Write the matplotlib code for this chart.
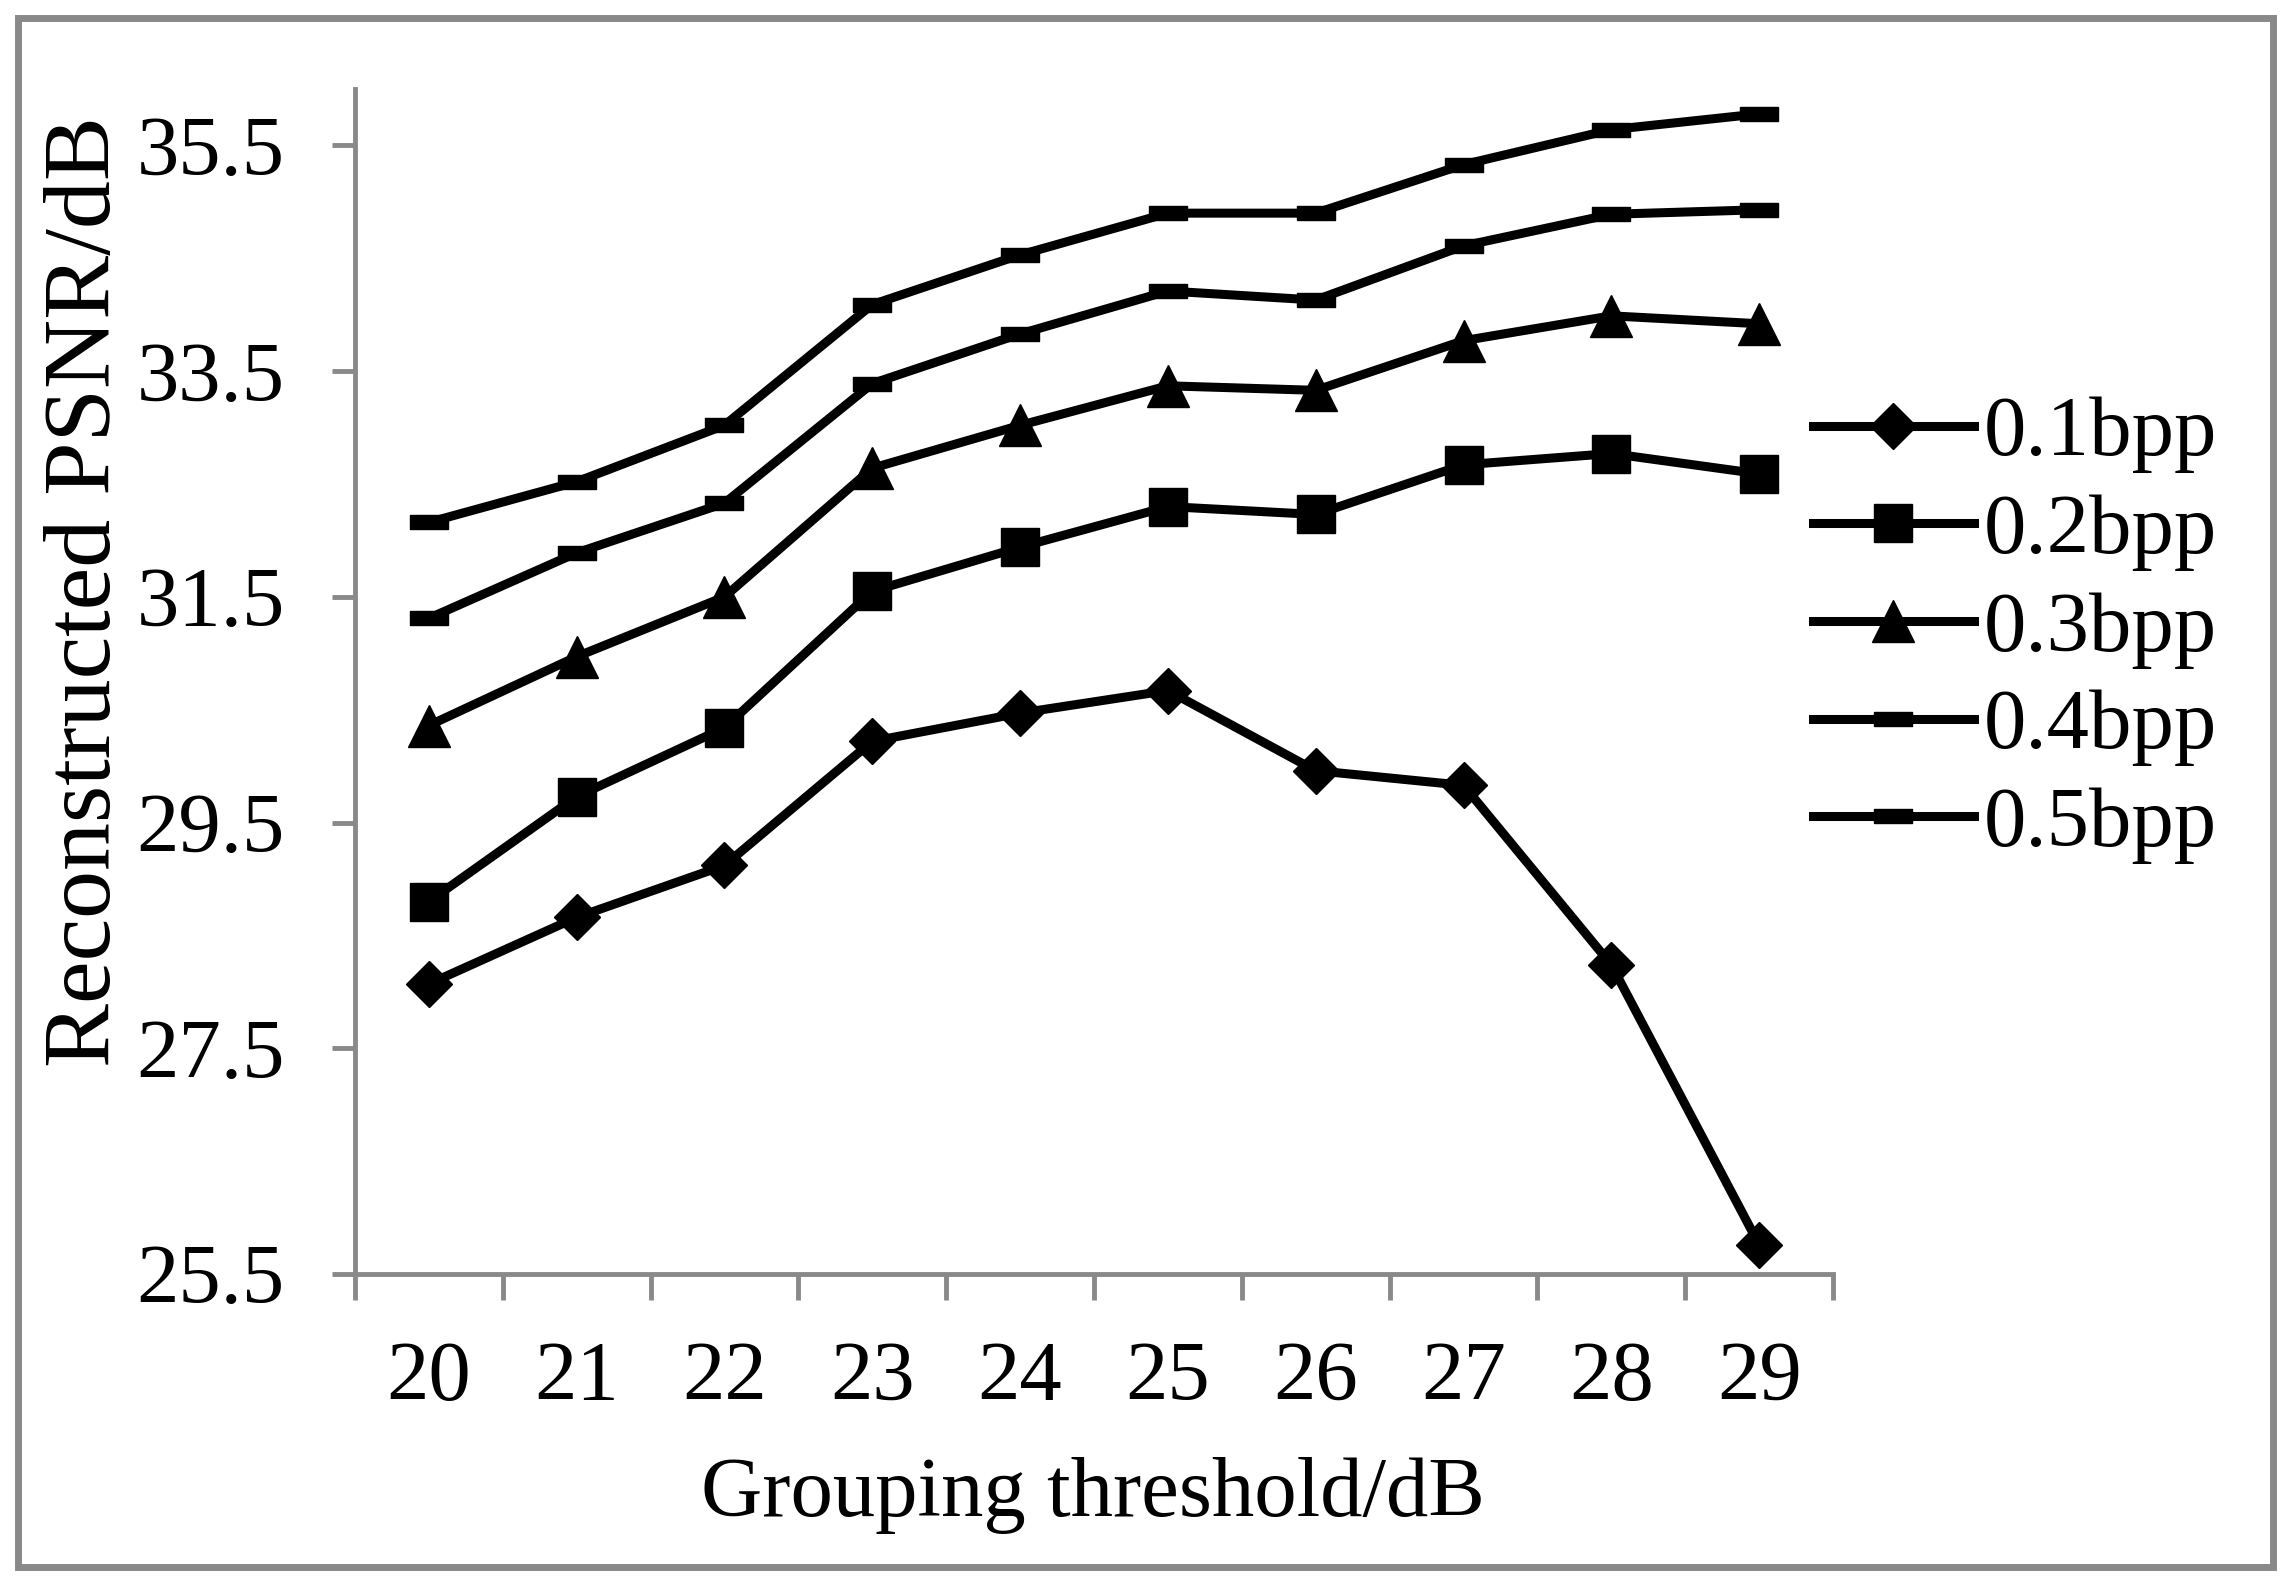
import numpy as np
import matplotlib
matplotlib.use('Agg')
import matplotlib.pyplot as plt
from matplotlib.patches import Rectangle

plt.rcParams['font.family'] = ['Liberation Serif', 'DejaVu Serif']

thresholds = ['20', '21', '22', '23', '24', '25', '26', '27', '28', '29']
psnr_01 = [28.07, 28.66, 29.12, 30.22, 30.47, 30.67, 29.96, 29.83, 28.24, 25.76]
psnr_02 = [28.80, 29.73, 30.34, 31.55, 31.94, 32.30, 32.23, 32.67, 32.77, 32.59]
psnr_03 = [30.36, 30.97, 31.50, 32.64, 33.02, 33.37, 33.33, 33.77, 33.99, 33.92]
psnr_04 = [31.31, 31.89, 32.33, 33.39, 33.83, 34.21, 34.13, 34.61, 34.89, 34.93]
psnr_05 = [32.16, 32.52, 33.02, 34.09, 34.53, 34.90, 34.90, 35.33, 35.64, 35.78]
labels = ['0.1bpp', '0.2bpp', '0.3bpp', '0.4bpp', '0.5bpp']

fs = 61
gray = '#898989'
dash = [(-1.4, -0.5), (1.4, -0.5), (1.4, 0.5), (-1.4, 0.5), (-1.4, -0.5)]

fig = plt.figure(figsize=(22.87, 15.81), dpi=100)
ax = fig.add_axes([0.1552, 0.1942, 0.8015 - 0.1552, 0.9437 - 0.1942])

x = np.arange(len(thresholds))
series = [psnr_01, psnr_02, psnr_03, psnr_04, psnr_05]
markers = ['D', 's', '^', dash, dash]
sizes = [23, 28, 30, 28, 28]
for vals, m, ms, lab in zip(series, markers, sizes, labels):
    ax.plot(x, vals, color='black', lw=6.5, marker=m, ms=ms, mew=1,
            mfc='black', mec='black', label=lab)

ax.set_xlim(-0.5, 9.5)
ax.set_ylim(25.5, 36)
ax.set_yticks(np.arange(25.5, 36, 2))
ax.set_yticklabels(['25.5', '27.5', '29.5', '31.5', '33.5', '35.5'])
ax.set_xticks(x)
ax.set_xticklabels(thresholds)
ax.set_xticks(np.arange(-0.5, 10, 1), minor=True)

for s in ['top', 'right']:
    ax.spines[s].set_visible(False)
for s in ['left', 'bottom']:
    ax.spines[s].set_color(gray)
    ax.spines[s].set_linewidth(3.5)

ax.tick_params(axis='y', which='major', length=16.5, width=3.5, color=gray,
               labelsize=fs, pad=34)
ax.tick_params(axis='x', which='major', length=0, labelsize=fs, pad=48)
ax.tick_params(axis='x', which='minor', length=19, width=3.5, color=gray)

fig.text(0.038, 0.626, 'Reconstructed PSNR/dB', rotation=90, fontsize=69,
         ha='center', va='center')
fig.text(0.478, 0.054, 'Grouping threshold/dB', fontsize=fs,
         ha='center', va='center')

ax.legend(loc='center left', bbox_to_anchor=(1813 / 2287, 0.6015),
          bbox_transform=fig.transFigure, frameon=False, fontsize=fs,
          handlelength=1.9, handletextpad=0.12, labelspacing=0.24,
          borderpad=0, borderaxespad=0, numpoints=1)

fig.patches.append(Rectangle((18 / 2287, 14 / 1581), (2273 - 18) / 2287,
                             1549 / 1581, transform=fig.transFigure,
                             fill=False, edgecolor=gray, lw=5))

fig.savefig('out.png', dpi=100)
